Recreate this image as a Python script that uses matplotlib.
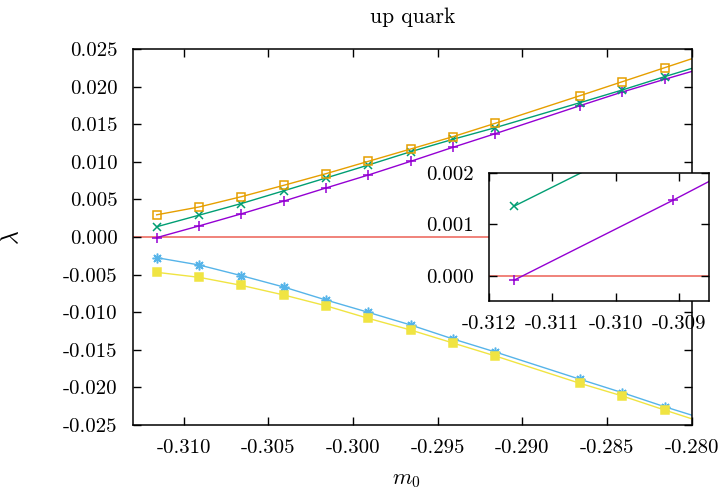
import numpy as np
import matplotlib
matplotlib.use("Agg")
import matplotlib.pyplot as plt
from matplotlib.ticker import FuncFormatter, MultipleLocator

plt.rcParams['font.family'] = ['cmr10', 'DejaVu Serif']
plt.rcParams['mathtext.fontset'] = 'cm'
plt.rcParams['axes.unicode_minus'] = False
plt.rcParams['axes.formatter.use_mathtext'] = True

# data (x = bare mass m0)
m0 = [-0.3116, -0.3091, -0.3066, -0.3041, -0.3016, -0.2991, -0.2966,
      -0.2941, -0.2916, -0.2866, -0.2841, -0.2816, -0.2791]
lam_purple = [-0.000085, 0.00147, 0.00308, 0.00477, 0.00652, 0.00824, 0.01006,
              0.01193, 0.01374, 0.01746, 0.01928, 0.02097, 0.02260]
lam_green = [0.00136, 0.00290, 0.00445, 0.00614, 0.00785, 0.00957, 0.01134,
             0.01299, 0.01454, 0.01786, 0.01955, 0.02132, 0.02303]
lam_blue = [-0.00275, -0.00372, -0.00514, -0.00665, -0.00838, -0.01002, -0.01170,
            -0.01356, -0.01529, -0.01892, -0.02070, -0.02257, -0.02432]
lam_orange = [0.00295, 0.00399, 0.00536, 0.00687, 0.00842, 0.01006, 0.01170,
              0.01334, 0.01512, 0.01879, 0.02065, 0.02251, 0.02437]
lam_yellow = [-0.00470, -0.00536, -0.00643, -0.00771, -0.00915, -0.01082, -0.01237,
              -0.01410, -0.01582, -0.01946, -0.02114, -0.02301, -0.02483]

series = [
    (lam_purple, '#9400d3', '+', 7, 'none'),
    (lam_green, '#009e73', 'x', 5.5, 'none'),
    (lam_blue, '#56b4e9', (8, 2, 0), 7, 'none'),
    (lam_orange, '#e69f00', 's', 6, 'none'),
    (lam_yellow, '#f0e442', 's', 6, 'fill'),
]

def hyph(fmt):
    def f(v, p):
        if abs(v) < 1e-12:
            v = 0.0
        return (fmt % v).replace('\u2212', '-')
    return FuncFormatter(f)

fig = plt.figure(figsize=(7.22, 4.90), dpi=100)
ax = fig.add_axes([0.1842, 0.1327, 0.958 - 0.1842, 0.9 - 0.1327])

def draw(a):
    a.axhline(0.0, color='#e51e10', lw=1.1, alpha=0.7, zorder=1)
    for y, c, mk, ms, fill in series:
        a.plot(m0, y, color=c, lw=1.0, marker=mk, ms=ms,
               mfc=(c if fill == 'fill' else 'none'), mec=c, mew=1.1, zorder=2)

draw(ax)
ax.set_xlim(-0.313, -0.280)
ax.set_ylim(-0.025, 0.025)
ax.xaxis.set_major_locator(MultipleLocator(0.005))
ax.yaxis.set_major_locator(MultipleLocator(0.005))
ax.xaxis.set_major_formatter(hyph('%.3f'))
ax.yaxis.set_major_formatter(hyph('%.3f'))
ax.tick_params(direction='in', length=6, width=1, top=True, right=True,
               labelsize=15)
ax.tick_params(axis='y', pad=11)
ax.tick_params(axis='x', pad=10)
for s in ax.spines.values():
    s.set_linewidth(1.1)
ax.set_title('up quark', fontsize=15.5, pad=19)
ax.set_ylabel(r'$\lambda$', fontsize=17, rotation=90)
ax.yaxis.set_label_coords(-0.197, 0.5)
ax.set_xlabel(r'$m_0$', fontsize=16)
ax.xaxis.set_label_coords(0.49, -0.12)

ins = fig.add_axes([489 / 722, 1 - 301.3 / 490, (709.3 - 489) / 722, (301.3 - 173.3) / 490])
ins.set_facecolor('white')
draw(ins)
ins.set_xlim(-0.312, -0.30852)
ins.set_ylim(-0.0005, 0.002)
ins.xaxis.set_major_locator(MultipleLocator(0.001))
ins.yaxis.set_major_locator(MultipleLocator(0.001))
ins.xaxis.set_major_formatter(hyph('%.3f'))
ins.yaxis.set_major_formatter(hyph('%.3f'))
ins.tick_params(direction='in', length=6, width=1, top=True, right=True,
                labelsize=15)
ins.tick_params(axis='y', pad=11)
ins.tick_params(axis='x', pad=10)
for s in ins.spines.values():
    s.set_linewidth(1.1)

fig.savefig('out.png', dpi=100)
